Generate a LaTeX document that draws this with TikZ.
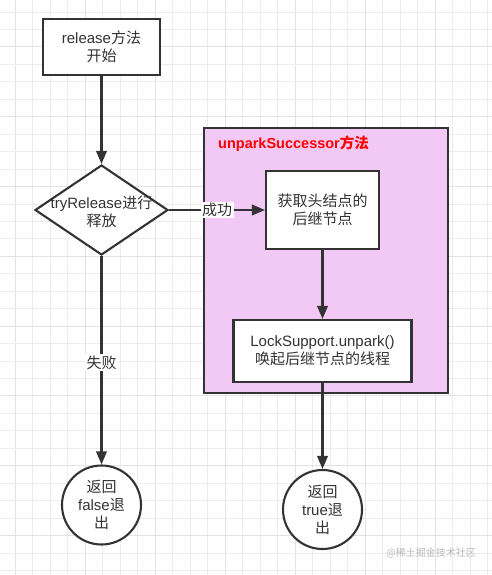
\documentclass[tikz,border=0pt]{standalone}
\usepackage{fontspec}
\setmainfont{Liberation Sans}
\newfontfamily\cjk{Noto Sans CJK SC}
\usetikzlibrary{shapes.geometric,arrows.meta}
\definecolor{linec}{RGB}{51,51,51}
\definecolor{gridc}{RGB}{236,236,236}
\definecolor{gridm}{RGB}{226,226,226}
\definecolor{pinkc}{RGB}{242,200,244}
\definecolor{wmc}{RGB}{185,185,185}
\tikzset{
  box/.style={draw=linec, line width=2.1pt, fill=white, inner sep=0pt, align=center, font=\fontsize{15}{18}\selectfont, text=linec},
  roundn/.style={draw=linec, line width=2.1pt, fill=white, circle, inner sep=0pt, minimum size=79pt, align=center, font=\fontsize{15}{18}\selectfont, text=linec},
  txt/.style={align=center, font=\fontsize{15}{18}\selectfont, text=linec, inner sep=0pt},
  flow/.style={draw=linec, line width=2.1pt, -{Triangle[length=13pt,width=10.5pt]}},
  elabel/.style={fill=white, inner sep=1.5pt, font=\fontsize{15}{17}\selectfont, text=linec}
}
\begin{document}
\begin{tikzpicture}[x=1pt,y=-1pt]
\useasboundingbox (0,0) rectangle (492,575);
\fill[white] (0,0) rectangle (492,575);
% grid
\foreach \k in {0,...,27} {
  \pgfmathsetmacro{\xx}{15+17.5*\k}
  \pgfmathtruncatemacro{\mm}{mod(\k,4)}
  \ifnum\mm=0
    \draw[gridm, line width=0.9pt] (\xx,0) -- (\xx,575);
  \else
    \draw[gridc, line width=0.9pt] (\xx,0) -- (\xx,575);
  \fi
}
\foreach \k in {-1,...,32} {
  \pgfmathsetmacro{\yy}{12+17.45*\k}
  \pgfmathtruncatemacro{\mm}{mod(\k+4,4)}
  \ifnum\mm=2
    \draw[gridm, line width=0.9pt] (0,\yy) -- (492,\yy);
  \else
    \draw[gridc, line width=0.9pt] (0,\yy) -- (492,\yy);
  \fi
}
% container
\node[draw=linec, line width=2.1pt, fill=pinkc, minimum width=244pt, minimum height=265pt, inner sep=0pt] (cont) at (326,260.5) {};
\node[anchor=west, text=red, font=\bfseries\fontsize{14.5}{16}\selectfont, inner sep=0pt] (title) at (218,144) {unparkSuccessor{\cjk\bfseries 方法}};
% nodes
\node[box, minimum width=117pt, minimum height=56pt] (start) at (101.5,47) {release{\cjk 方法}\\{\cjk 开始}};
\node[diamond, draw=linec, line width=2.1pt, fill=white, minimum width=133pt, minimum height=90pt, inner sep=0pt] (dec) at (101.5,210) {};
\node[txt] (dect) at (101.5,212) {tryRelease{\cjk 进行}\\{\cjk 释放}};
\node[box, minimum width=113pt, minimum height=78pt] (head) at (322.5,210) {{\cjk 获取头结点的}\\{\cjk 后继节点}};
\node[box, minimum width=178pt, minimum height=62pt] (unpark) at (322.5,351) {LockSupport.unpark()\\{\cjk 唤起后继节点的线程}};
\node[roundn] (fals) at (101.5,505) {{\cjk 返回}\\false{\cjk 退}\\{\cjk 出}};
\node[roundn] (tru) at (322.5,509.5) {{\cjk 返回}\\true{\cjk 退}\\{\cjk 出}};
% edges
\draw[flow] (start) -- (dec);
\draw[flow] (dec.east) -- node[elabel, pos=0.5] {\cjk 成功} (head.west);
\draw[flow] (head) -- (unpark);
\draw[flow] (dec.south) -- node[elabel, pos=0.51] {\cjk 失败} (fals.north);
\draw[flow] (unpark.south) -- (tru.north);
% watermark
\node[anchor=east, text=wmc, inner sep=0pt, font=\cjk\fontsize{10}{12}\selectfont] (wm) at (476,553) {@稀土掘金技术社区};
\end{tikzpicture}
\end{document}
